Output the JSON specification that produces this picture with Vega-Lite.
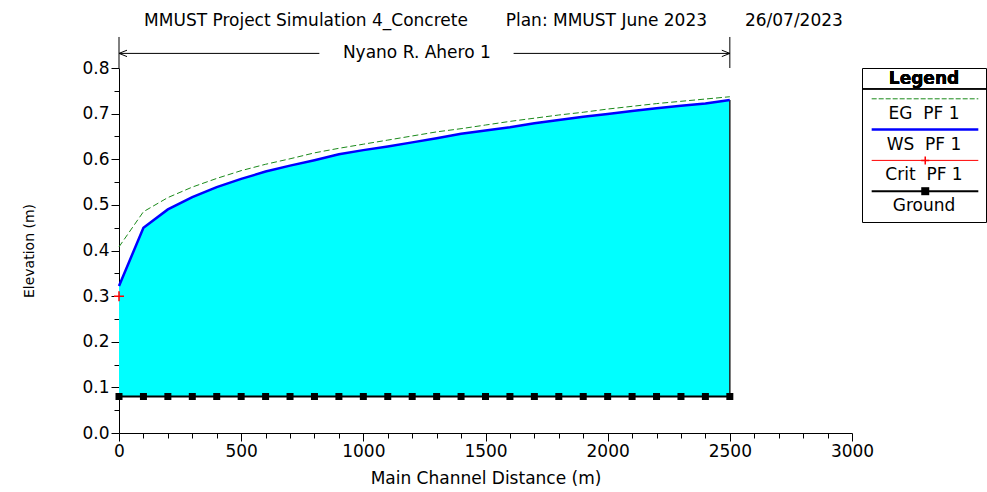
{
  "$schema": "https://vega.github.io/schema/vega-lite/v6.json",
  "padding": {"left": 22, "top": 12, "right": 0, "bottom": 0},
  "bounds": "flush",
  "spacing": 10,
  "background": "white",
  "config": {
    "view": {"stroke": null},
    "font": "DejaVu Sans",
    "axis": {
      "grid": false,
      "domainColor": "black",
      "tickColor": "black",
      "labelColor": "black",
      "titleColor": "black",
      "labelFont": "DejaVu Sans",
      "titleFont": "DejaVu Sans",
      "titleFontWeight": "normal",
      "labelOverlap": false,
      "labelFlush": false
    }
  },
  "datasets": {
    "profile": [
      {"dist": 0, "ws": 0.322, "eg": 0.408, "crit": 0.30, "ground": 0.08},
      {"dist": 100, "ws": 0.450, "eg": 0.485, "ground": 0.08},
      {"dist": 200, "ws": 0.490, "eg": 0.516, "ground": 0.08},
      {"dist": 300, "ws": 0.517, "eg": 0.539, "ground": 0.08},
      {"dist": 400, "ws": 0.539, "eg": 0.558, "ground": 0.08},
      {"dist": 500, "ws": 0.557, "eg": 0.575, "ground": 0.08},
      {"dist": 600, "ws": 0.573, "eg": 0.589, "ground": 0.08},
      {"dist": 700, "ws": 0.586, "eg": 0.601, "ground": 0.08},
      {"dist": 800, "ws": 0.598, "eg": 0.614, "ground": 0.08},
      {"dist": 900, "ws": 0.611, "eg": 0.624, "ground": 0.08},
      {"dist": 1000, "ws": 0.620, "eg": 0.633, "ground": 0.08},
      {"dist": 1100, "ws": 0.628, "eg": 0.642, "ground": 0.08},
      {"dist": 1200, "ws": 0.637, "eg": 0.651, "ground": 0.08},
      {"dist": 1300, "ws": 0.646, "eg": 0.660, "ground": 0.08},
      {"dist": 1400, "ws": 0.656, "eg": 0.667, "ground": 0.08},
      {"dist": 1500, "ws": 0.663, "eg": 0.675, "ground": 0.08},
      {"dist": 1600, "ws": 0.670, "eg": 0.683, "ground": 0.08},
      {"dist": 1700, "ws": 0.679, "eg": 0.690, "ground": 0.08},
      {"dist": 1800, "ws": 0.686, "eg": 0.697, "ground": 0.08},
      {"dist": 1900, "ws": 0.693, "eg": 0.703, "ground": 0.08},
      {"dist": 2000, "ws": 0.699, "eg": 0.710, "ground": 0.08},
      {"dist": 2100, "ws": 0.706, "eg": 0.716, "ground": 0.08},
      {"dist": 2200, "ws": 0.712, "eg": 0.722, "ground": 0.08},
      {"dist": 2300, "ws": 0.717, "eg": 0.727, "ground": 0.08},
      {"dist": 2400, "ws": 0.722, "eg": 0.732, "ground": 0.08},
      {"dist": 2500, "ws": 0.730, "eg": 0.737, "ground": 0.08}
    ],
    "reach": [
      {"reach": "Nyano R. Ahero 1", "start": 0, "end": 2500}
    ],
    "legend": [
      {"series": "EG", "label": "EG\u00a0\u00a0PF 1", "rank": 1},
      {"series": "WS", "label": "WS\u00a0\u00a0PF 1", "rank": 2},
      {"series": "Crit", "label": "Crit\u00a0\u00a0PF 1", "rank": 3},
      {"series": "Ground", "label": "Ground", "rank": 4}
    ]
  },
  "hconcat": [
    {
      "width": 733,
      "height": 365,
      "title": {
        "text": "MMUST Project Simulation 4_Concrete\u00a0\u00a0\u00a0\u00a0\u00a0\u00a0\u00a0Plan: MMUST June 2023\u00a0\u00a0\u00a0\u00a0\u00a0\u00a0\u00a026/07/2023",
        "font": "DejaVu Sans",
        "fontSize": 17,
        "fontWeight": "normal",
        "color": "black",
        "anchor": "middle",
        "dx": 8,
        "offset": 6
      },
      "data": {"name": "profile"},
      "layer": [
        {
          "mark": {"type": "area", "color": "#00FFFF", "opacity": 1},
          "encoding": {
            "x": {
              "field": "dist", "type": "quantitative",
              "scale": {"domain": [0, 3000], "nice": false, "zero": true},
              "axis": {
                "title": "Main Channel Distance (m)",
                "values": [0,100,200,300,400,500,600,700,800,900,1000,1100,1200,1300,1400,1500,1600,1700,1800,1900,2000,2100,2200,2300,2400,2500,2600,2700,2800,2900,3000],
                "tickCount": 60,
                "format": "d",
                "labelExpr": "datum.value % 500 === 0 ? datum.label : ''",
                "tickSize": 8,
                "tickDash": {"condition": {"test": "datum.value % 500 === 0", "value": [8, 0]}, "value": [5, 10]},
                "labelFontSize": 17,
                "labelPadding": 2,
                "titleFontSize": 17,
                "titlePadding": 11
              }
            },
            "y": {
              "field": "ws", "type": "quantitative",
              "scale": {"domain": [0, 0.8], "nice": false, "zero": true},
              "axis": {
                "title": "Elevation (m)",
                "values": [0,0.05,0.1,0.15,0.2,0.25,0.3,0.35,0.4,0.45,0.5,0.55,0.6,0.65,0.7,0.75,0.8],
                "tickCount": 40,
                "labelExpr": "round(datum.value*100) % 10 === 0 ? format(datum.value, '.1f') : ''",
                "tickSize": 8,
                "tickDash": {"condition": {"test": "round(datum.value*100) % 10 === 0", "value": [8, 0]}, "value": [5, 10]},
                "labelFontSize": 17,
                "labelPadding": 2,
                "titleFontSize": 14,
                "titlePadding": 45
              }
            },
            "y2": {"field": "ground"}
          }
        },
        {
          "transform": [{"filter": "datum.dist === 2500"}],
          "mark": {"type": "rule", "color": "#222222", "strokeWidth": 1.5},
          "encoding": {
            "x": {"field": "dist", "type": "quantitative"},
            "y": {"field": "ground", "type": "quantitative"},
            "y2": {"field": "ws"}
          }
        },
        {
          "mark": {"type": "line", "color": "#1a8a1a", "strokeWidth": 1, "strokeDash": [6, 3]},
          "encoding": {
            "x": {"field": "dist", "type": "quantitative"},
            "y": {"field": "eg", "type": "quantitative"}
          }
        },
        {
          "mark": {"type": "line", "color": "#0000FF", "strokeWidth": 2.5},
          "encoding": {
            "x": {"field": "dist", "type": "quantitative"},
            "y": {"field": "ws", "type": "quantitative"}
          }
        },
        {
          "mark": {"type": "line", "color": "black", "strokeWidth": 2, "point": {"shape": "square", "filled": true, "size": 49, "color": "black"}},
          "encoding": {
            "x": {"field": "dist", "type": "quantitative"},
            "y": {"field": "ground", "type": "quantitative"}
          }
        },
        {
          "transform": [{"filter": "isValid(datum.crit)"}],
          "mark": {"type": "point", "shape": "M-1,0L1,0M0,-1L0,1", "filled": false, "color": "#FF0000", "strokeWidth": 1.5, "size": 100, "opacity": 1},
          "encoding": {
            "x": {"field": "dist", "type": "quantitative"},
            "y": {"field": "crit", "type": "quantitative"}
          }
        },
        {
          "data": {"name": "reach"},
          "mark": {"type": "rule", "color": "black", "strokeWidth": 1, "clip": false},
          "encoding": {
            "x": {"field": "start", "type": "quantitative"},
            "y": {"datum": 0.8, "type": "quantitative"},
            "y2": {"datum": 0.868}
          }
        },
        {
          "data": {"name": "reach"},
          "mark": {"type": "rule", "color": "black", "strokeWidth": 1, "clip": false},
          "encoding": {
            "x": {"field": "end", "type": "quantitative"},
            "y": {"datum": 0.8, "type": "quantitative"},
            "y2": {"datum": 0.868}
          }
        },
        {
          "data": {"name": "reach"},
          "mark": {"type": "rule", "color": "black", "strokeWidth": 1, "clip": false},
          "encoding": {
            "x": {"field": "start", "type": "quantitative"},
            "x2": {"datum": 820},
            "y": {"datum": 0.832, "type": "quantitative"}
          }
        },
        {
          "data": {"name": "reach"},
          "mark": {"type": "rule", "color": "black", "strokeWidth": 1, "clip": false},
          "encoding": {
            "x": {"field": "end", "type": "quantitative"},
            "x2": {"datum": 1615},
            "y": {"datum": 0.832, "type": "quantitative"}
          }
        },
        {
          "data": {"name": "reach"},
          "mark": {"type": "point", "shape": "M0,0L1,-0.4M0,0L1,0.4", "filled": false, "color": "black", "strokeWidth": 1, "size": 256, "opacity": 1, "clip": false},
          "encoding": {
            "x": {"field": "start", "type": "quantitative"},
            "y": {"datum": 0.832, "type": "quantitative"}
          }
        },
        {
          "data": {"name": "reach"},
          "mark": {"type": "point", "shape": "M0,0L-1,-0.4M0,0L-1,0.4", "filled": false, "color": "black", "strokeWidth": 1, "size": 256, "opacity": 1, "clip": false},
          "encoding": {
            "x": {"field": "end", "type": "quantitative"},
            "y": {"datum": 0.832, "type": "quantitative"}
          }
        },
        {
          "data": {"name": "reach"},
          "mark": {"type": "text", "font": "DejaVu Sans", "fontSize": 17, "color": "black", "clip": false},
          "encoding": {
            "x": {"datum": 1219, "type": "quantitative"},
            "y": {"datum": 0.832, "type": "quantitative"},
            "text": {"field": "reach"}
          }
        }
      ]
    },
    {
      "width": 124,
      "height": 154,
      "view": {"stroke": "black", "strokeWidth": 1},
      "data": {"name": "legend"},
      "encoding": {
        "x": {"datum": 0.5, "type": "quantitative", "scale": {"domain": [0, 1], "nice": false}, "axis": null},
        "y": {"field": "rank", "type": "quantitative", "scale": {"domain": [0, 5], "nice": false, "reverse": true, "zero": false}, "axis": null}
      },
      "layer": [
        {
          "mark": {"type": "text", "font": "DejaVu Sans", "fontSize": 17, "fontWeight": "bold", "color": "black"},
          "encoding": {
            "y": {"datum": 0.36, "type": "quantitative"},
            "text": {"value": "Legend"}
          }
        },
        {
          "mark": {"type": "rule", "color": "black", "strokeWidth": 1},
          "encoding": {
            "x": {"datum": 0, "type": "quantitative"},
            "x2": {"datum": 1},
            "y": {"datum": 0.68, "type": "quantitative"}
          }
        },
        {
          "transform": [{"filter": "datum.series === 'EG'"}],
          "mark": {"type": "rule", "color": "#1a8a1a", "strokeWidth": 1, "strokeDash": [5, 2]},
          "encoding": {"x": {"datum": 0.078, "type": "quantitative"}, "x2": {"datum": 0.938}}
        },
        {
          "transform": [{"filter": "datum.series === 'WS'"}],
          "mark": {"type": "rule", "color": "#0000FF", "strokeWidth": 2.5},
          "encoding": {"x": {"datum": 0.078, "type": "quantitative"}, "x2": {"datum": 0.938}}
        },
        {
          "transform": [{"filter": "datum.series === 'Crit'"}],
          "mark": {"type": "rule", "color": "#FF0000", "strokeWidth": 1},
          "encoding": {"x": {"datum": 0.078, "type": "quantitative"}, "x2": {"datum": 0.938}}
        },
        {
          "transform": [{"filter": "datum.series === 'Ground'"}],
          "mark": {"type": "rule", "color": "black", "strokeWidth": 2},
          "encoding": {"x": {"datum": 0.078, "type": "quantitative"}, "x2": {"datum": 0.938}}
        },
        {
          "transform": [{"filter": "datum.series === 'Crit'"}],
          "mark": {"type": "point", "shape": "M-1,0L1,0M0,-1L0,1", "filled": false, "color": "#FF0000", "strokeWidth": 1.5, "size": 64, "opacity": 1},
          "encoding": {"x": {"datum": 0.51, "type": "quantitative"}}
        },
        {
          "transform": [{"filter": "datum.series === 'Ground'"}],
          "mark": {"type": "point", "shape": "square", "filled": true, "color": "black", "size": 64, "opacity": 1},
          "encoding": {"x": {"datum": 0.51, "type": "quantitative"}}
        },
        {
          "mark": {"type": "text", "font": "DejaVu Sans", "fontSize": 17, "color": "black", "dy": 15},
          "encoding": {"text": {"field": "label"}}
        }
      ]
    }
  ]
}
